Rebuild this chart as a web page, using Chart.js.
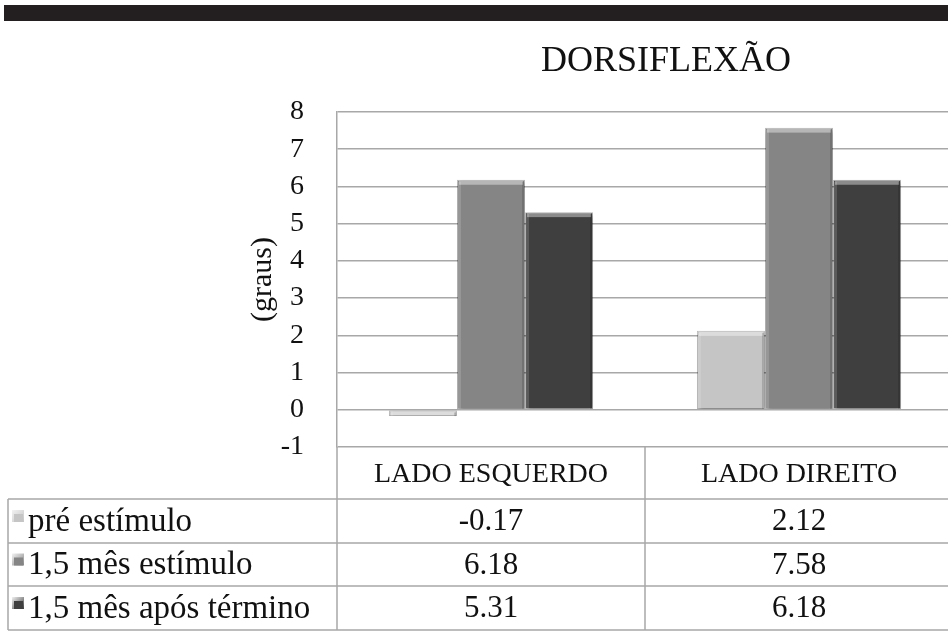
<!DOCTYPE html>
<html>
<head>
<meta charset="utf-8">
<script src="https://cdn.jsdelivr.net/npm/chart.js@4.4.1/dist/chart.umd.min.js"></script>
<style>
  html, body { margin: 0; padding: 0; background: #fff; overflow: hidden; }
  #wrap { position: absolute; left: 0; top: 0; width: 956px; height: 640px; }
  #topbar { position: absolute; left: 4px; top: 5px; width: 944px; height: 16px; background: #231f20; }
</style>
</head>
<body>
<div id="wrap"><canvas id="chart"></canvas></div>
<div id="topbar"></div>
<script>
// dados
const categories = ['LADO ESQUERDO', 'LADO DIREITO'];
const seriesNames = ['pré estímulo', '1,5 mês estímulo', '1,5 mês após término'];
const preEstimulo = [-0.17, 2.12];
const mesEstimulo = [6.18, 7.58];
const aposTermino = [5.31, 6.18];
const yMin = -1, yMax = 8, yStep = 1;

const colors = ['#c5c5c5', '#858585', '#3f3f3f'];
const FONT = "'Liberation Serif', 'DejaVu Serif', serif";
const TEXT = '#111';
const LINE = '#a8a8a8';

// sombra leve nas barras (efeito 3D do original)
const shadowPlugin = {
  id: 'barShadow',
  beforeDatasetsDraw(chart) {
    const ctx = chart.ctx;
    ctx.save();
    ctx.shadowColor = 'rgba(0,0,0,0.4)';
    ctx.shadowBlur = 5;
    ctx.shadowOffsetX = 1;
    ctx.shadowOffsetY = 2;
  },
  afterDatasetsDraw(chart) {
    const ctx = chart.ctx;
    ctx.restore();
    // brilho no topo e na esquerda de cada barra
    chart.data.datasets.forEach((ds, di) => {
      chart.getDatasetMeta(di).data.forEach(bar => {
        const l = bar.x - bar.width / 2, r = bar.x + bar.width / 2;
        const top = Math.min(bar.y, bar.base);
        const h = Math.abs(bar.base - bar.y);
        ctx.save();
        ctx.fillStyle = 'rgba(255,255,255,0.4)';
        ctx.fillRect(l + 2, top + 1, r - l - 4, Math.min(4, h - 1));
        ctx.fillStyle = 'rgba(255,255,255,0.15)';
        ctx.fillRect(l + 1, top + 2, 3, h - 3);
        ctx.fillStyle = 'rgba(0,0,0,0.15)';
        ctx.fillRect(r - 3, top + 2, 2, h - 2);
        ctx.restore();
      });
    });
  }
};

// título e tabela de dados por baixo do gráfico
const tablePlugin = {
  id: 'dataTable',
  afterDraw(chart) {
    const { ctx, chartArea } = chart;
    const x = chart.scales.x;
    const left = chartArea.left, right = chartArea.right;
    const mid = (x.getPixelForValue(0) + x.getPixelForValue(1)) / 2;
    const headTop = chartArea.bottom, headBottom = 499;
    const rowLines = [499, 543, 586, 630];
    const tableLeft = 8;

    ctx.save();
    // título
    ctx.fillStyle = TEXT;
    ctx.font = '36px ' + FONT;
    ctx.textAlign = 'center';
    ctx.textBaseline = 'middle';
    ctx.fillText('DORSIFLEXÃO', 666, 62);

    // linhas
    ctx.strokeStyle = LINE;
    ctx.lineWidth = 1.5;
    ctx.beginPath();
    [left, mid].forEach(v => { ctx.moveTo(v, headTop); ctx.lineTo(v, rowLines[3]); });
    ctx.moveTo(tableLeft, headBottom); ctx.lineTo(tableLeft, rowLines[3]);
    rowLines.forEach(y => { ctx.moveTo(tableLeft, y); ctx.lineTo(right, y); });
    ctx.stroke();

    // cabeçalho
    ctx.font = '28px ' + FONT;
    categories.forEach((c, i) => ctx.fillText(c, x.getPixelForValue(i), (headTop + headBottom) / 2 + 2));

    // linhas de séries
    const series = [preEstimulo, mesEstimulo, aposTermino];
    series.forEach((vals, si) => {
      const cy = (rowLines[si] + rowLines[si + 1]) / 2 + 1;
      // marcador
      const g = ctx.createLinearGradient(12, cy - 12, 24, cy);
      g.addColorStop(0, '#f2f2f2');
      g.addColorStop(1, colors[si]);
      ctx.fillStyle = g;
      ctx.fillRect(12, cy - 12, 12, 12);
      ctx.fillStyle = colors[si];
      ctx.fillRect(14, cy - 8, 9, 8);
      ctx.fillStyle = TEXT;
      ctx.textAlign = 'left';
      ctx.font = '33px ' + FONT;
      ctx.fillText(seriesNames[si], 28, cy);
      ctx.textAlign = 'center';
      ctx.font = '31px ' + FONT;
      vals.forEach((v, i) => ctx.fillText(v.toFixed(2), x.getPixelForValue(i), cy));
    });
    ctx.restore();
  }
};

const datasets = [preEstimulo, mesEstimulo, aposTermino].map((vals, i) => ({
  label: seriesNames[i],
  data: vals,
  backgroundColor: colors[i],
  borderColor: 'rgba(0,0,0,0.25)',
  borderWidth: 1,
  borderSkipped: false,
  barPercentage: 1.0,
  categoryPercentage: 0.663
}));

new Chart(document.getElementById('chart'), {
  type: 'bar',
  data: { labels: categories, datasets },
  plugins: [shadowPlugin, tablePlugin],
  options: {
    responsive: true,
    maintainAspectRatio: false,
    animation: false,
    layout: { padding: { left: 245, right: 3, top: 112, bottom: 193 } },
    plugins: {
      legend: { display: false },
      title: { display: false },
      tooltip: { enabled: false }
    },
    scales: {
      x: { display: false },
      y: {
        min: yMin,
        max: yMax,
        afterFit: s => { s.width = 92; },
        ticks: {
          stepSize: yStep,
          color: TEXT,
          padding: 33,
          font: { family: FONT, size: 28 }
        },
        grid: { color: LINE, lineWidth: 1.5, drawTicks: false },
        border: { display: true, color: LINE, width: 1.5 },
        title: {
          display: true,
          text: '(graus)',
          color: TEXT,
          padding: 0,
          font: { family: FONT, size: 30 }
        }
      }
    }
  }
});
</script>
</body>
</html>
